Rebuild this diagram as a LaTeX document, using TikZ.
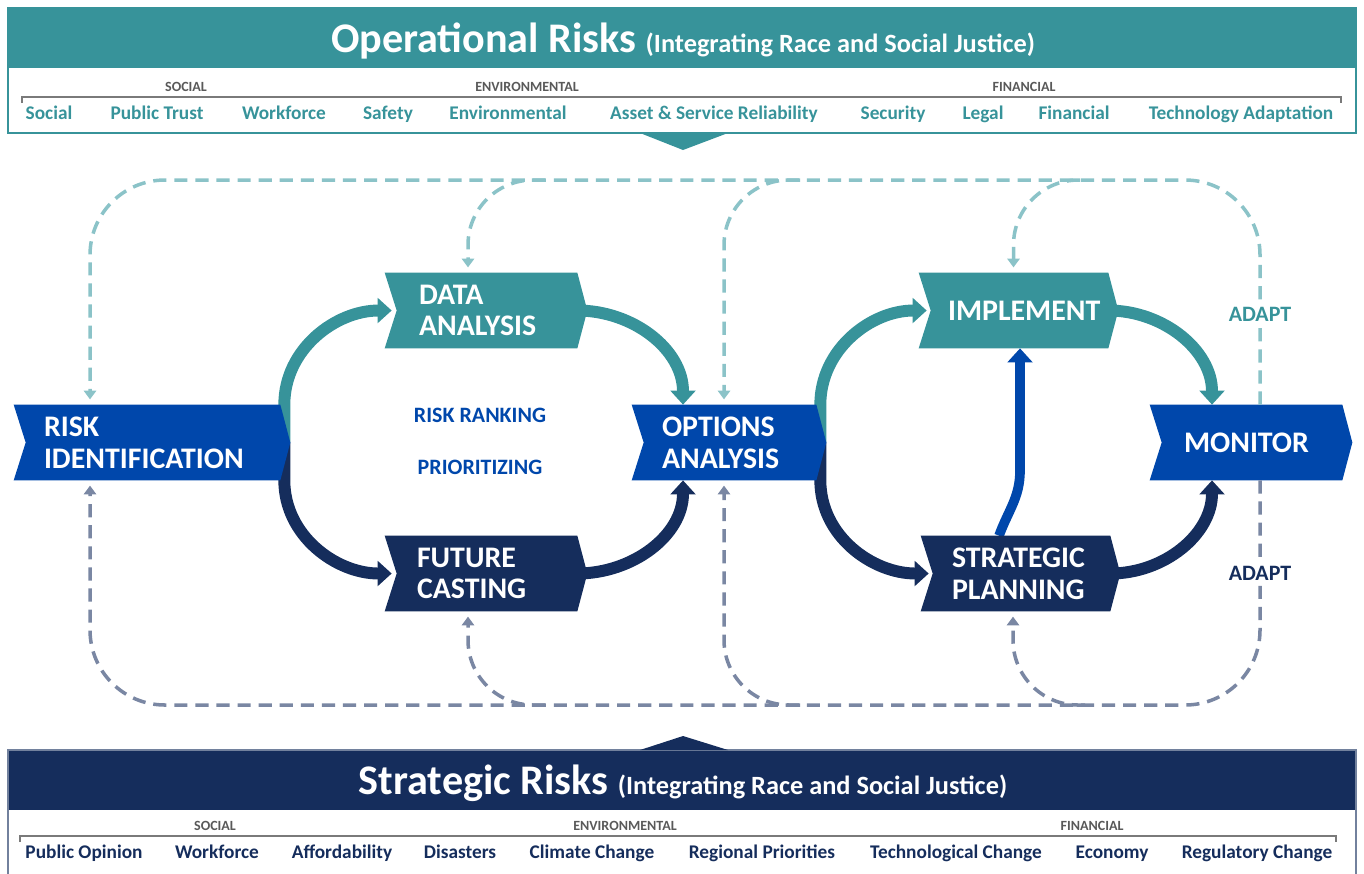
\documentclass[tikz,border=0pt]{standalone}
\usepackage{fontspec}
\setmainfont{Carlito}
\usetikzlibrary{arrows.meta,positioning}

\definecolor{opteal}{RGB}{55,147,154}
\definecolor{stnavy}{RGB}{21,45,92}
\definecolor{stepblue}{RGB}{0,71,171}
\definecolor{dashteal}{RGB}{139,195,200}
\definecolor{dashnavy}{RGB}{122,135,163}
\definecolor{catgray}{RGB}{89,89,89}

\pgfdeclarelayer{flow}
\pgfdeclarelayer{shapes}
\pgfsetlayers{flow,shapes,main}

\tikzset{
  stage/.style={minimum width=#1, minimum height=1.5cm, inner sep=0pt},
  stagetext/.style={inner sep=0pt, align=left, text=white, font=\fontsize{17}{18}\selectfont\bfseries},
  flowup/.style={line width=6.8pt, -{Triangle[length=8pt,width=14pt]}},
  feedback/.style={line width=2pt, dash pattern=on 7.5pt off 4.5pt, -{Triangle[length=5pt,width=7pt]}, shorten >=3pt},
  item/.style={anchor=base, inner sep=1pt, font=\fontsize{11}{13}\selectfont\bfseries},
  cat/.style={anchor=base, inner sep=1pt, text=catgray, font=\fontsize{8}{9}\selectfont\bfseries},
  midlabel/.style={text=stepblue, font=\fontsize{12.5}{14}\selectfont\bfseries},
  adapt/.style={fill=white, inner sep=2pt, font=\fontsize{12.5}{14}\selectfont\bfseries},
  bandtitle/.style={anchor=base, text=white, font=\fontsize{24}{28}\selectfont\bfseries},
}
\newcommand{\chevron}[2]{%
  \fill[#2] (#1.north west) -- (#1.north east) -- ([xshift=0.2cm]#1.east)
    -- (#1.south east) -- (#1.south west) -- ([xshift=0.24cm]#1.west) -- cycle;}
\newcommand{\subtitle}[1]{{\fontsize{15}{18}\selectfont #1}}

\begin{document}
\begin{tikzpicture}[x=0.02cm, y=0.02cm]
  \useasboundingbox (0,0) rectangle (1364,-873);

  % operational band
  \fill[opteal] (8,-8) rectangle (1356,-68);
  \draw[opteal, line width=1pt] (8,-8) rectangle (1356,-133);
  \fill[opteal] (640,-133) -- (728,-133) -- (683,-150) -- cycle;
  \node[bandtitle] (optitle) at (683,-52) {Operational Risks \subtitle{(Integrating Race and Social Justice)}};
  \draw[catgray!80, line width=0.8pt] (22,-103) -- (22,-97) -- (1341,-97) -- (1341,-103);
  \node[cat] (opsoc) at (186,-91) {SOCIAL};
  \node[cat] (openv) at (527,-91) {ENVIRONMENTAL};
  \node[cat] (opfin) at (1024,-91) {FINANCIAL};
  \foreach \x/\t [count=\i] in {49/Social, 157/Public Trust, 284/Workforce, 388/Safety,
      508/Environmental, 714/Asset \& Service Reliability, 893/Security, 983/Legal,
      1074/Financial, 1241/Technology Adaptation}
    \node[item, text=opteal] (op\i) at (\x,-119) {\t};

  % strategic band
  \fill[stnavy] (8,-750) rectangle (1356,-810);
  \draw[stnavy!60, line width=1pt] (8,-750) rectangle (1356,-885);
  \fill[stnavy] (640,-750) -- (728,-750) -- (683,-736) -- cycle;
  \node[bandtitle] (sttitle) at (683,-794) {Strategic Risks \subtitle{(Integrating Race and Social Justice)}};
  \draw[catgray!80, line width=0.8pt] (20,-842) -- (20,-836) -- (1336,-836) -- (1336,-842);
  \node[cat] (stsoc) at (215,-830) {SOCIAL};
  \node[cat] (stenv) at (625,-830) {ENVIRONMENTAL};
  \node[cat] (stfin) at (1092,-830) {FINANCIAL};
  \foreach \x/\t [count=\i] in {84/Public Opinion, 217/Workforce, 342/Affordability,
      460/Disasters, 592/Climate Change, 762/Regional Priorities,
      956/Technological Change, 1112/Economy, 1257/Regulatory Change}
    \node[item, text=stnavy] (st\i) at (\x,-858) {\t};

  % stages
  \node[stage=5.32cm] (ri) at (147,-442.5) {};
  \node[stage=3.84cm] (da) at (481,-310.5) {};
  \node[stage=3.84cm] (fc) at (481,-573.5) {};
  \node[stage=3.68cm] (oa) at (724,-442.5) {};
  \node[stage=3.78cm] (im) at (1013.5,-310.5) {};
  \node[stage=3.78cm] (sp) at (1015.5,-573.5) {};
  \node[stage=3.84cm] (mo) at (1246,-442.5) {};
  \begin{pgfonlayer}{shapes}
    \chevron{ri}{stepblue}
    \chevron{da}{opteal}
    \chevron{fc}{stnavy}
    \chevron{oa}{stepblue}
    \chevron{im}{opteal}
    \chevron{sp}{stnavy}
    \chevron{mo}{stepblue}
  \end{pgfonlayer}
  \node[stagetext, right=0.6cm of ri.west] (ri-t) {RISK\\IDENTIFICATION};
  \node[stagetext, right=0.68cm of da.west] (da-t) {DATA\\ANALYSIS};
  \node[stagetext, right=0.64cm of fc.west] (fc-t) {FUTURE\\CASTING};
  \node[stagetext, right=0.6cm of oa.west] (oa-t) {OPTIONS\\ANALYSIS};
  \node[stagetext, right=0.58cm of im.west] (im-t) {IMPLEMENT};
  \node[stagetext, right=0.62cm of sp.west] (sp-t) {STRATEGIC\\PLANNING};
  \node[stagetext, right=0.68cm of mo.west] (mo-t) {MONITOR};

  \node[midlabel] (rank) at (480,-415) {RISK RANKING};
  \node[midlabel] (prio) at (480,-467) {PRIORITIZING};

  % main flow
  \begin{pgfonlayer}{flow}
    \draw[flowup, opteal] ([xshift=0.08cm]ri.east) -- ([xshift=0.08cm]ri.north east)
      to[out=90,in=180] ([xshift=0.14cm]da.west);
    \draw[flowup, stnavy] ([xshift=0.08cm]ri.east) -- ([xshift=0.08cm]ri.south east)
      to[out=-90,in=180] ([xshift=0.14cm]fc.west);
    \draw[flowup, opteal] (da.east) to[out=0,in=90] ([xshift=-0.82cm]oa.north);
    \draw[flowup, stnavy] (fc.east) to[out=0,in=-90] ([xshift=-0.82cm]oa.south);
    \draw[flowup, opteal] ([xshift=0.08cm]oa.east) -- ([xshift=0.08cm]oa.north east)
      to[out=90,in=180] ([xshift=0.16cm]im.west);
    \draw[flowup, stnavy] ([xshift=0.08cm]oa.east) -- ([xshift=0.08cm]oa.south east)
      to[out=-90,in=180] ([xshift=0.16cm]sp.west);
    \draw[flowup, opteal] (im.east) to[out=0,in=90] ([xshift=-0.68cm]mo.north);
    \draw[flowup, stnavy] (sp.east) to[out=0,in=-90] ([xshift=-0.68cm]mo.south);
    \draw[line width=5.5pt, stepblue, -{Triangle[length=8pt,width=14pt]}]
      ([xshift=-0.33cm]sp.north) to[out=70,in=-90] ++(0.42cm,1.3cm) -- ([xshift=0.13cm]im.south);
  \end{pgfonlayer}

  % feedback from operational risks
  \coordinate (tophub) at (683,-180);
  \coordinate (hubda) at (545,-180);
  \coordinate (huboa) at (800,-180);
  \coordinate (hubim) at (1080,-180);
  \draw[feedback, dashteal, rounded corners=1.5cm] ([xshift=0.28cm]mo.north) |- (tophub) -| ([xshift=-1.14cm]ri.north);
  \draw[feedback, dashteal, rounded corners=1.3cm] (hubda) -| ([xshift=-0.26cm]da.north);
  \draw[feedback, dashteal, rounded corners=1.3cm] (huboa) -| (oa.north);
  \draw[feedback, dashteal, rounded corners=1.3cm] (hubim) -| (im.north);

  % feedback from strategic risks
  \coordinate (bothub) at (683,-705);
  \coordinate (hubfc) at (545,-705);
  \coordinate (huboa2) at (800,-705);
  \coordinate (hubsp) at (1085,-705);
  \draw[feedback, dashnavy, rounded corners=1.5cm] ([xshift=0.28cm]mo.south) |- (bothub) -| ([xshift=-1.14cm]ri.south);
  \draw[feedback, dashnavy, rounded corners=1.3cm] (hubfc) -| ([xshift=-0.26cm]fc.south);
  \draw[feedback, dashnavy, rounded corners=1.3cm] (huboa2) -| (oa.south);
  \draw[feedback, dashnavy, rounded corners=1.3cm] (hubsp) -| ([xshift=-0.05cm]sp.south);

  \node[adapt, text=opteal] (adtop) at (1260,-314) {ADAPT};
  \node[adapt, text=stnavy] (adbot) at (1260,-573) {ADAPT};
\end{tikzpicture}
\end{document}
